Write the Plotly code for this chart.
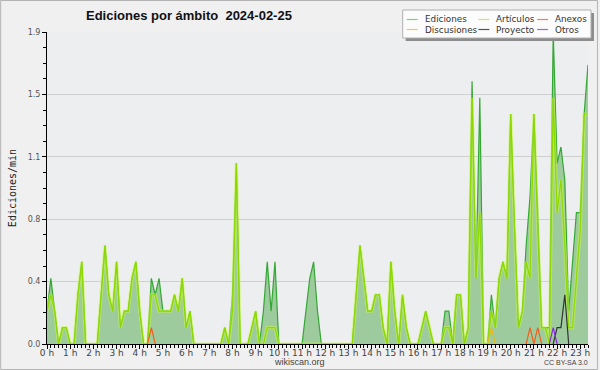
import plotly.graph_objects as go

# ---------------- data (10-minute bins, edits per minute) ----------------
slot_minutes = 10
ediciones = [
    0.2, 0.4, 0.2, 0.0, 0.1, 0.1,   # 0 h
    0.0, 0.0, 0.3, 0.5, 0.0, 0.0,   # 1 h
    0.0, 0.0, 0.3, 0.6, 0.3, 0.2,   # 2 h
    0.5, 0.1, 0.2, 0.2, 0.4, 0.5,   # 3 h
    0.2, 0.0, 0.0, 0.4, 0.3, 0.4,   # 4 h
    0.2, 0.2, 0.2, 0.3, 0.2, 0.4,   # 5 h
    0.1, 0.2, 0.0, 0.0, 0.0, 0.0,   # 6 h
    0.0, 0.0, 0.0, 0.0, 0.1, 0.0,   # 7 h
    0.3, 1.1, 0.0, 0.0, 0.0, 0.1,   # 8 h
    0.2, 0.0, 0.2, 0.5, 0.2, 0.5,   # 9 h
    0.0, 0.0, 0.0, 0.0, 0.0, 0.0,   # 10 h
    0.0, 0.2, 0.4, 0.5, 0.2, 0.0,   # 11 h
    0.0, 0.0, 0.0, 0.0, 0.0, 0.0,   # 12 h
    0.0, 0.0, 0.3, 0.6, 0.4, 0.2,   # 13 h
    0.2, 0.3, 0.3, 0.1, 0.0, 0.5,   # 14 h
    0.2, 0.0, 0.3, 0.1, 0.0, 0.0,   # 15 h
    0.0, 0.1, 0.2, 0.1, 0.0, 0.0,   # 16 h
    0.0, 0.2, 0.2, 0.0, 0.3, 0.3,   # 17 h
    0.0, 0.1, 1.6, 0.4, 1.5, 0.0,   # 18 h
    0.0, 0.3, 0.1, 0.4, 0.5, 0.4,   # 19 h
    1.4, 0.7, 0.1, 0.2, 0.6, 0.9,   # 20 h
    1.4, 0.8, 0.1, 0.1, 0.1, 1.9,   # 21 h
    1.1, 1.2, 1.0, 0.2, 0.5, 0.8,   # 22 h
    0.8, 1.4, 1.7,                  # 23 h
]
articulos = [
    0.2, 0.3, 0.2, 0.0, 0.1, 0.1,
    0.0, 0.0, 0.3, 0.5, 0.0, 0.0,
    0.0, 0.0, 0.3, 0.6, 0.3, 0.2,
    0.5, 0.1, 0.2, 0.2, 0.4, 0.5,
    0.2, 0.0, 0.0, 0.3, 0.3, 0.2,
    0.2, 0.2, 0.2, 0.3, 0.2, 0.4,
    0.1, 0.2, 0.0, 0.0, 0.0, 0.0,
    0.0, 0.0, 0.0, 0.0, 0.1, 0.0,
    0.2, 1.1, 0.0, 0.0, 0.0, 0.1,
    0.2, 0.0, 0.0, 0.1, 0.1, 0.1,
    0.0, 0.0, 0.0, 0.0, 0.0, 0.0,
    0.0, 0.0, 0.0, 0.0, 0.0, 0.0,
    0.0, 0.0, 0.0, 0.0, 0.0, 0.0,
    0.0, 0.0, 0.3, 0.6, 0.4, 0.2,
    0.2, 0.3, 0.3, 0.1, 0.0, 0.5,
    0.2, 0.0, 0.3, 0.1, 0.0, 0.0,
    0.0, 0.1, 0.2, 0.1, 0.0, 0.0,
    0.0, 0.1, 0.1, 0.0, 0.3, 0.3,
    0.0, 0.1, 1.5, 0.4, 0.8, 0.0,
    0.0, 0.2, 0.1, 0.4, 0.5, 0.4,
    1.4, 0.7, 0.1, 0.2, 0.5, 0.4,
    1.4, 0.7, 0.1, 0.1, 0.0, 1.5,
    0.8, 1.0, 0.6, 0.1, 0.1, 0.4,
    0.7, 1.4, 1.4,
]
n_slots = len(ediciones)
# sparse series: {slot index: value}
anexos = {27: 0.1, 125: 0.1, 127: 0.1}
discusiones = {115: 0.1}
proyecto = {132: 0.1, 133: 0.1, 134: 0.3}
otros = {131: 0.1}

y_tick_vals = [0.0, 0.38, 0.76, 1.14, 1.52, 1.9]
y_tick_text = ["0.0", "0.4", "0.8", "1.1", "1.5", "1.9"]
hour_ticks = list(range(24))
hour_labels = [f"{h} h" for h in hour_ticks]

legend_names = ["Ediciones", "Artículos", "Anexos", "Discusiones", "Proyecto", "Otros"]
legend_colors = ["#7fcf7f", "#c8ee50", "#ee8050", "#eec850", "#555555", "#a060ee"]

# ---------------- helpers ----------------
x_hours = [i * slot_minutes / 60 for i in range(n_slots)]


def sparse_to_line(d):
    full = [d.get(i, 0.0) for i in range(n_slots)]
    out = []
    for i, v in enumerate(full):
        near = any(full[j] > 0 for j in range(max(0, i - 1), min(n_slots, i + 2)))
        out.append(v if near else None)
    return out


# ---------------- figure ----------------
fig = go.Figure()
fig.add_trace(go.Scatter(
    x=x_hours, y=ediciones, mode="lines", fill="tozeroy",
    fillcolor="#9ecb9e", line=dict(color="#34a834", width=1.2),
    showlegend=False, hoverinfo="skip"))
fig.add_trace(go.Scatter(
    x=x_hours, y=articulos, mode="lines",
    line=dict(color="rgba(200,250,70,0.55)", width=3.2),
    showlegend=False, hoverinfo="skip"))
fig.add_trace(go.Scatter(
    x=x_hours, y=articulos, mode="lines",
    line=dict(color="#8ed800", width=1.2),
    showlegend=False, hoverinfo="skip"))
for d, c in [(anexos, "#ee6020"), (discusiones, "#e8b820"),
             (proyecto, "#333333"), (otros, "#8a2be2")]:
    fig.add_trace(go.Scatter(
        x=x_hours, y=sparse_to_line(d), mode="lines",
        line=dict(color=c, width=1.2), connectgaps=False,
        showlegend=False, hoverinfo="skip"))

W, H = 600, 370
L, R, T, B = 47, 10, 32, 26
pw, ph = W - L - R, H - T - B


def px(x):
    return (x - L) / pw


def py(y):
    return (H - B - y) / ph


shapes = []
annotations = []

# legend box with shadow
shapes.append(dict(type="rect", xref="paper", yref="paper",
                   x0=px(407), x1=px(596), y0=py(13), y1=py(41),
                   fillcolor="#8c8c8c", line=dict(width=0), layer="above"))
shapes.append(dict(type="rect", xref="paper", yref="paper",
                   x0=px(404), x1=px(593), y0=py(10), y1=py(38),
                   fillcolor="#fcfcfc", line=dict(color="#b0b0b0", width=1),
                   layer="above"))
col_x = [408, 480, 539]
row_y = [19.5, 29.5]
for k, (name, col) in enumerate(zip(legend_names, legend_colors)):
    cx = col_x[k % 3]
    ry = row_y[k // 3]
    shapes.append(dict(type="line", xref="paper", yref="paper",
                       x0=px(cx), x1=px(cx + 11), y0=py(ry), y1=py(ry),
                       line=dict(color=col, width=1.2), layer="above"))
    annotations.append(dict(xref="paper", yref="paper", x=px(cx + 16), y=py(ry),
                            text=name, showarrow=False, xanchor="left",
                            yanchor="middle",
                            font=dict(family="DejaVu Sans", size=8.8, color="#333333")))

# title
annotations.append(dict(xref="paper", yref="paper", x=px(84), y=py(16),
                        text="<b>Ediciones por ámbito  2024-02-25</b>",
                        showarrow=False, xanchor="left", yanchor="middle",
                        font=dict(family="Liberation Sans, Arial", size=13, color="#111111")))
# footer
annotations.append(dict(xref="paper", yref="paper", x=px(300), y=py(361.5),
                        text="wikiscan.org", showarrow=False, xanchor="center",
                        yanchor="middle",
                        font=dict(family="Liberation Sans, Arial", size=9, color="#444444")))
annotations.append(dict(xref="paper", yref="paper", x=px(568), y=py(362.5),
                        text="CC BY-SA 3.0", showarrow=False, xanchor="center",
                        yanchor="middle",
                        font=dict(family="Liberation Sans, Arial", size=7, color="#444444")))
# y title
annotations.append(dict(xref="paper", yref="paper", x=px(12), y=0.5,
                        text="Ediciones/min", showarrow=False, textangle=-90,
                        xanchor="center", yanchor="middle",
                        font=dict(family="DejaVu Sans Mono", size=10, color="#222222")))
# outer border
shapes.append(dict(type="rect", xref="paper", yref="paper",
                   x0=px(0.5), x1=px(599.5), y0=py(0.5), y1=py(369.5),
                   line=dict(color="#b4b4b4", width=1), layer="below"))

fig.update_layout(
    width=W, height=H,
    margin=dict(l=L, r=R, t=T, b=B),
    paper_bgcolor="#f0f0f0",
    plot_bgcolor="#edeef0",
    showlegend=False,
    shapes=shapes,
    annotations=annotations,
    xaxis=dict(
        range=[0, x_hours[-1]], tickvals=hour_ticks, ticktext=hour_labels,
        showgrid=False, zeroline=False, showline=True, linecolor="#000000",
        linewidth=1, ticks="outside", ticklen=4, tickcolor="#000000",
        ticklabelstandoff=-4,
        tickfont=dict(family="DejaVu Sans", size=9, color="#444444"),
        minor=dict(dtick=slot_minutes / 60, ticks="outside", ticklen=3,
                   tickcolor="#000000", showgrid=False),
        fixedrange=True,
    ),
    yaxis=dict(
        range=[0, 1.9], tickvals=y_tick_vals, ticktext=y_tick_text,
        showgrid=True, gridcolor="#cfcfcf", gridwidth=1, zeroline=False,
        showline=True, linecolor="#000000", linewidth=1,
        ticks="outside", ticklen=4, tickcolor="#000000",
        tickfont=dict(family="DejaVu Sans", size=8, color="#555555"),
        minor=dict(dtick=0.095, ticks="outside", ticklen=3, tickcolor="#000000",
                   showgrid=False),
        fixedrange=True,
    ),
)

fig.write_html(
    "out.html",
    config={"displayModeBar": False},
    post_script="document.body.style.margin='0px';document.body.style.background='#f0f0f0';",
)
